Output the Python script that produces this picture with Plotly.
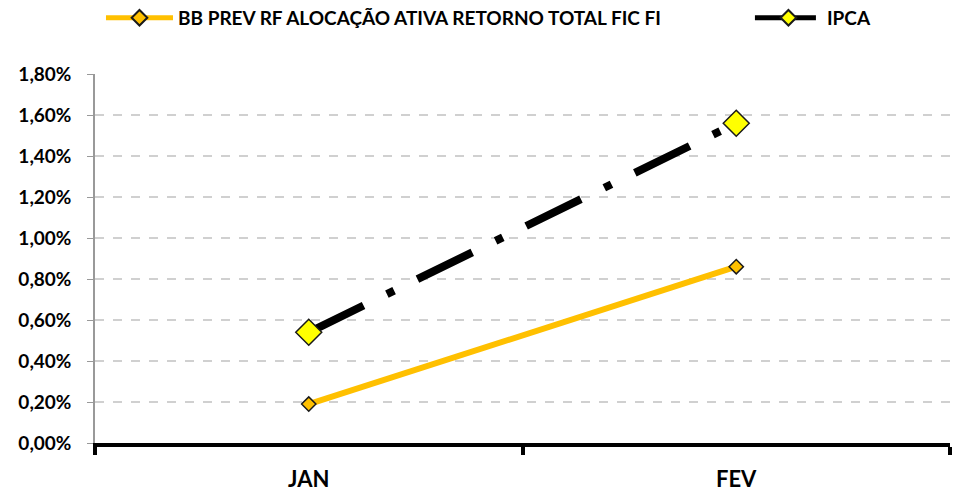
import plotly.graph_objects as go

categories = ["JAN", "FEV"]
bb_prev = [0.19, 0.86]
ipca = [0.54, 1.56]
y_ticks = [0.0, 0.2, 0.4, 0.6, 0.8, 1.0, 1.2, 1.4, 1.6, 1.8]
y_tick_labels = ["0,00%", "0,20%", "0,40%", "0,60%", "0,80%", "1,00%", "1,20%", "1,40%", "1,60%", "1,80%"]

FONT = "Lato, Carlito, Calibri, sans-serif"

fig = go.Figure()
fig.add_trace(go.Scatter(
    x=categories, y=bb_prev, mode="lines+markers",
    name="<b>BB PREV RF ALOCAÇÃO ATIVA RETORNO TOTAL FIC FI</b>",
    line=dict(color="#FFC000", width=6),
    marker=dict(symbol="diamond", size=11, color="#FFC000", line=dict(color="#1a1a1a", width=1.5)),
    legend="legend",
))
fig.add_trace(go.Scatter(
    x=categories, y=ipca, mode="lines+markers",
    name="<b>IPCA</b>",
    line=dict(color="#000000", width=8, dash="61px,26px,8px,26px"),
    marker=dict(symbol="diamond", size=20, color="#FFFF00", line=dict(color="#1a1a1a", width=1.5)),
    legend="legend2",
))

legend_common = dict(
    orientation="h", yanchor="middle", xanchor="left", y=1.152,
    font=dict(size=19, family=FONT, color="#000"),
    itemwidth=67, itemsizing="constant",
    bgcolor="rgba(0,0,0,0)",
)

fig.update_layout(
    width=955, height=481,
    margin=dict(l=87, r=13, t=66, b=46, autoexpand=False),
    paper_bgcolor="white", plot_bgcolor="white",
    font=dict(family=FONT, color="#000000"),
    showlegend=True,
    legend=dict(x=0.007, **legend_common),
    legend2=dict(x=0.766, **legend_common),
    xaxis=dict(
        type="category", range=[-0.5, 1.5], automargin=False,
        showline=True, linecolor="#000", linewidth=4,
        ticks="outside", tickcolor="#000", tickwidth=4, ticklen=8,
        tickmode="array", tickvals=[-0.5, 0.5, 1.5], ticktext=["", "", ""],
        showgrid=False, zeroline=False,
    ),
    yaxis=dict(
        range=[0, 1.8], automargin=False,
        tickvals=y_ticks, ticktext=["<b>%s</b>" % t for t in y_tick_labels],
        tickfont=dict(size=19, family=FONT, color="#000"),
        showline=True, linecolor="#999999", linewidth=1.5,
        ticks="outside", tickcolor="#999999", ticklen=6, tickwidth=1,
        showgrid=True, gridcolor="#d0d0d0", griddash="dash", gridwidth=1.5,
        zeroline=False, ticklabelstandoff=12,
    ),
)

for c in categories:
    fig.add_annotation(x=c, y=0, xref="x", yref="y", yshift=-35, text="<b>%s</b>" % c,
                       showarrow=False, font=dict(size=22, family=FONT, color="#000"))

fig.write_html("out.html")
